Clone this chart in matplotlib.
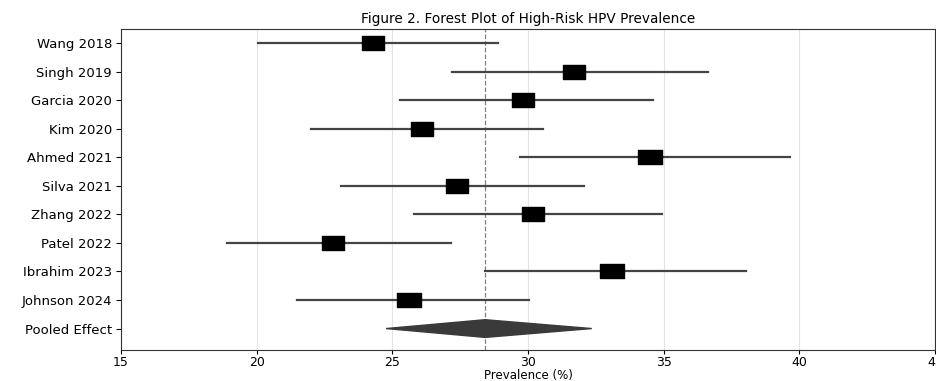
import numpy as np
import matplotlib.pyplot as plt
from matplotlib.path import Path

# study data
studies = ['Wang 2018', 'Singh 2019', 'Garcia 2020', 'Kim 2020', 'Ahmed 2021',
           'Silva 2021', 'Zhang 2022', 'Patel 2022', 'Ibrahim 2023', 'Johnson 2024']
estimate = [24.3, 31.7, 29.8, 26.1, 34.5, 27.4, 30.2, 22.8, 33.1, 25.6]
ci_low = [20.05, 27.2, 25.3, 22.0, 29.7, 23.1, 25.8, 18.9, 28.4, 21.5]
ci_high = [28.9, 36.65, 34.6, 30.55, 39.65, 32.05, 34.95, 27.15, 38.05, 30.05]
weight = [9.0, 9.3, 9.3, 9.3, 10.0, 9.6, 9.5, 9.5, 10.0, 9.8]

pooled_label = 'Pooled Effect'
pooled_est = 28.42
pooled_low = 24.77
pooled_high = 32.35

# wide rectangle marker (the reference is stretched horizontally)
rect = Path([(-1, -0.62), (1, -0.62), (1, 0.62), (-1, 0.62), (-1, -0.62)],
            [Path.MOVETO, Path.LINETO, Path.LINETO, Path.LINETO, Path.CLOSEPOLY])

fig = plt.figure(figsize=(9.37, 3.81), dpi=100)
ax = fig.add_axes([0.1291, 0.0815, 0.8688, 0.8424])

n = len(studies)
y = np.arange(n, 0, -1)  # top row first, pooled at 0

for yi, est, lo, hi, w in zip(y, estimate, ci_low, ci_high, weight):
    ax.plot([lo, hi], [yi, yi], color='#444444', lw=1.6, zorder=2)
    ax.plot(est, yi, marker=rect, color='black', ms=w * 1.7, zorder=3)

# pooled diamond
ax.fill([pooled_low, pooled_est, pooled_high, pooled_est],
        [0, 0.31, 0, -0.31], color='#3a3a3a', zorder=3)

ax.axvline(pooled_est, color='gray', linestyle='--', lw=0.9, zorder=1)

ax.set_yticks(list(y) + [0])
ax.set_yticklabels(studies + [pooled_label], fontsize=9.5)
ax.set_ylim(-0.75, n + 0.5)

ax.set_xlim(15, 45)
ax.set_xticks([15, 20, 25, 30, 35, 40, 45])
ax.tick_params(axis='x', labelsize=9, pad=1, length=3)
ax.tick_params(axis='y', length=3.5, pad=3)
ax.grid(axis='x', color='#e4e4e4', lw=0.8)
ax.set_axisbelow(True)

ax.set_xlabel('Prevalence (%)', fontsize=8.5, labelpad=0)
ax.set_title('Figure 2. Forest Plot of High-Risk HPV Prevalence', fontsize=9.8, pad=4)

for s in ax.spines.values():
    s.set_color('#333333')

fig.savefig('out.png', dpi=100)
